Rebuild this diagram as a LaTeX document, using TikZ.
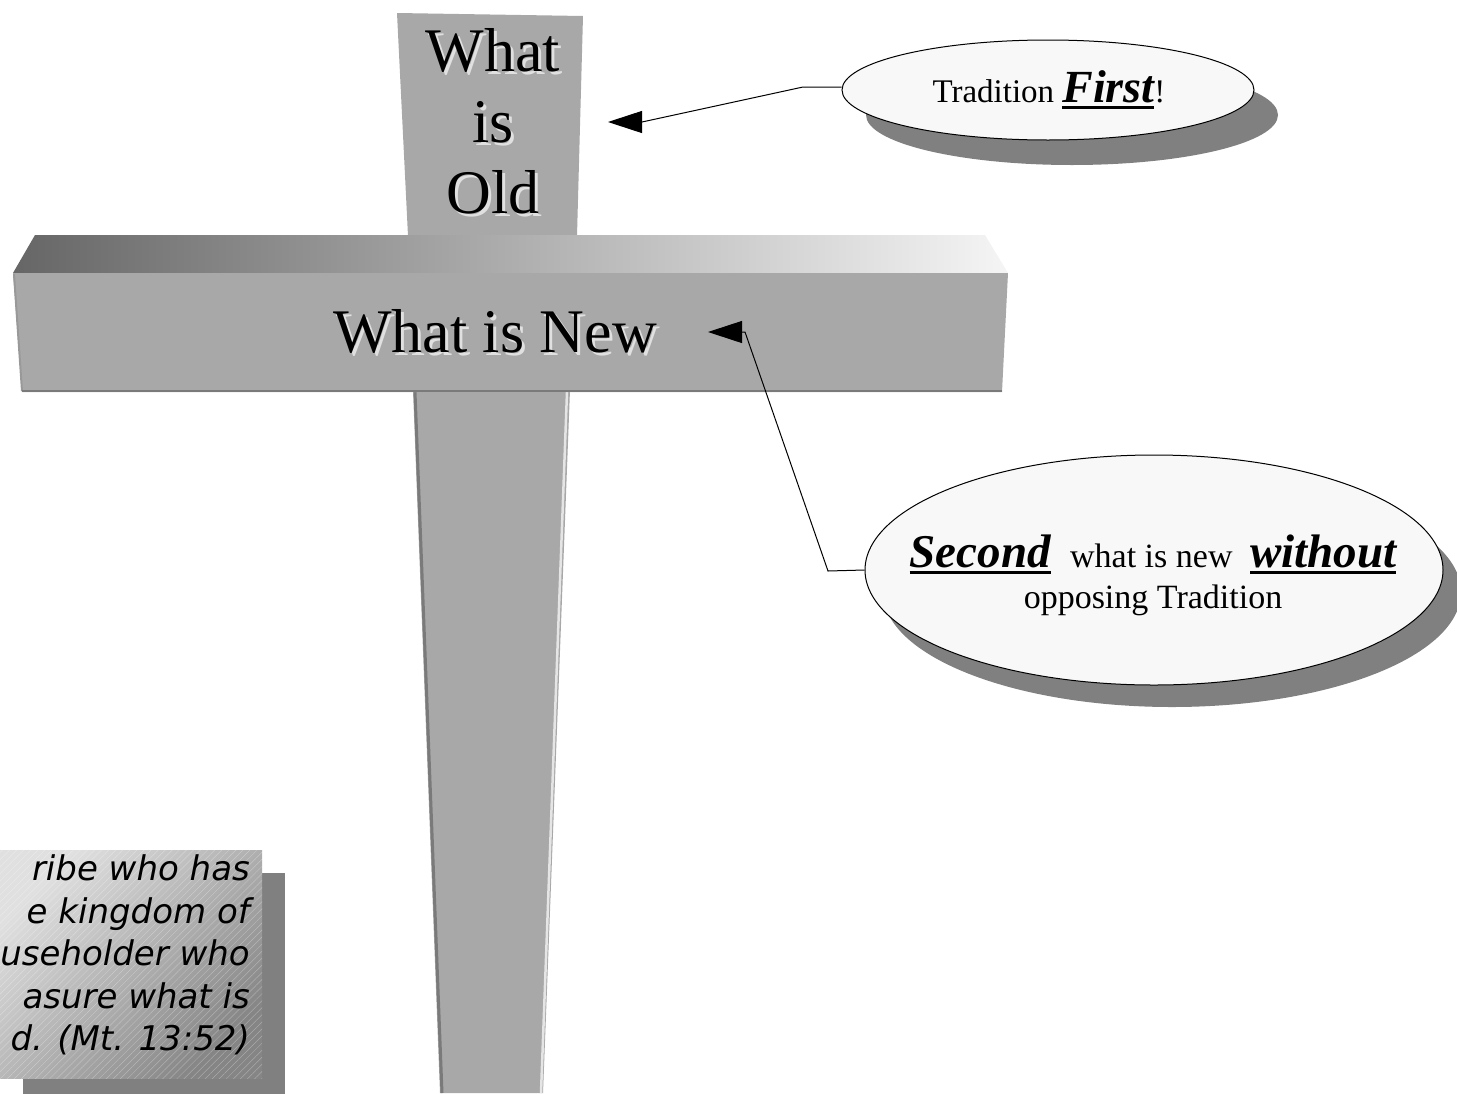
\documentclass[tikz,border=0pt]{standalone}
\usepackage{fontspec}
\setmainfont{Liberation Serif}
\newfontfamily\versefont{DejaVu Sans}
\usepackage{tikz}
\usetikzlibrary{shapes.geometric, arrows.meta, shadows, patterns.meta}
\definecolor{crossgray}{HTML}{A8A8A8}
\definecolor{edgedark}{HTML}{7A7A7A}
\definecolor{shadowgray}{HTML}{808080}
\definecolor{bubblefill}{HTML}{F8F8F8}
\tikzstyle{beam} = [fill=crossgray, draw=none]
\tikzstyle{bubble} = [ellipse, draw=black, line width=1pt, fill=bubblefill, inner sep=0pt]
\tikzstyle{bubbletext} = [align=center, inner sep=0pt, font=\fontsize{34}{41}\selectfont]
\tikzstyle{crosstext} = [align=center, inner sep=0pt, font=\fontsize{62}{71}\selectfont]
\tikzstyle{arrow} = [line width=1pt, -{Triangle[length=34pt,width=22pt]}]
\newcommand{\ulword}[1]{\setbox0=\hbox{#1}\rlap{\rule[-7pt]{\wd0}{3pt}}\box0}
\newcommand{\bigbi}{\fontsize{47}{47}\selectfont\bfseries\itshape}
\newcommand{\embossed}[1]{\rlap{\kern3pt\raisebox{-3pt}{\textcolor{black!12}{#1}}}#1}

\begin{document}
\begin{tikzpicture}[x=1pt, y=-1pt]
  \useasboundingbox (0,0) rectangle (1457,1093);

  % upright of the cross
  \fill [beam] (397,13) -- (583,16) -- (577,236) -- (408,236) -- cycle;
  \fill [beam] (413,390) -- (570,390) -- (543,1093) -- (440,1093) -- cycle;
  \draw [edgedark, line width=3pt] (415,392) -- (442,1093);
  \draw [black!10, line width=2.5pt] (567,392) -- (541,1093);

  % crossbar
  \shade [left color=black!60, right color=black!4] (35,235) -- (985,235) -- (1008,273) -- (13,273) -- cycle;
  \fill [beam] (13,273) -- (1008,273) -- (1002,392) -- (22,392) -- cycle;
  \draw [black!40, line width=2pt] (14,274) -- (22,391);
  \draw [edgedark, line width=2pt] (22,391) -- (1002,391);

  \node (old) [crosstext] at (493,123) {\embossed{What}\\\embossed{is}\\\embossed{Old}};
  \node (new) [crosstext] at (495,333) {\embossed{What is New}};

  % callouts
  \node (first) [bubble, minimum width=412pt, minimum height=100pt,
    drop shadow={shadow xshift=24pt, shadow yshift=-25pt, fill=shadowgray, opacity=1}] at (1048,90) {};
  \node (firsttext) [bubbletext, font=\fontsize{33}{40}\selectfont] at (1049,90) {Tradition \ulword{\fontsize{46}{46}\selectfont\bfseries\itshape First}!};

  \node (second) [bubble, minimum width=578pt, minimum height=230pt,
    drop shadow={shadow xshift=18pt, shadow yshift=-22pt, fill=shadowgray, opacity=1}] at (1154,570) {};
  \node (secondtext) [bubbletext] at (1153,575) {\ulword{\bigbi Second}\hspace{11pt} what is new\hspace{9pt} \ulword{\bigbi without}\\opposing Tradition};

  \coordinate (oldtip) at (608,122);
  \coordinate (newtip) at (708,332);
  \draw [arrow] ([yshift=3pt]first.west) -- (803,87) -- (642,122) -- (oldtip);
  \draw [arrow] (second.west) -- (828,571) -- (745,332) -- (newtip);

  % verse box
  \node (verse) [anchor=north west, minimum width=262pt, minimum height=228pt, inner sep=0pt,
    top color=black!12, bottom color=black!48, shading angle=45,
    drop shadow={shadow xshift=23pt, shadow yshift=-23pt, fill=shadowgray, opacity=1},
    postaction={opacity=0.3, pattern={Lines[angle=45,distance=5pt,line width=0.5pt]}, pattern color=white}] at (0,850) {};
  \node (versetext) [anchor=east, align=right, inner sep=0pt,
    font=\versefont\itshape\fontsize{34}{42.5}\selectfont] at (250,955)
    {ribe who has\\e kingdom of\\useholder who\\asure what is\\d. (Mt. 13:52)};
\end{tikzpicture}
\end{document}
